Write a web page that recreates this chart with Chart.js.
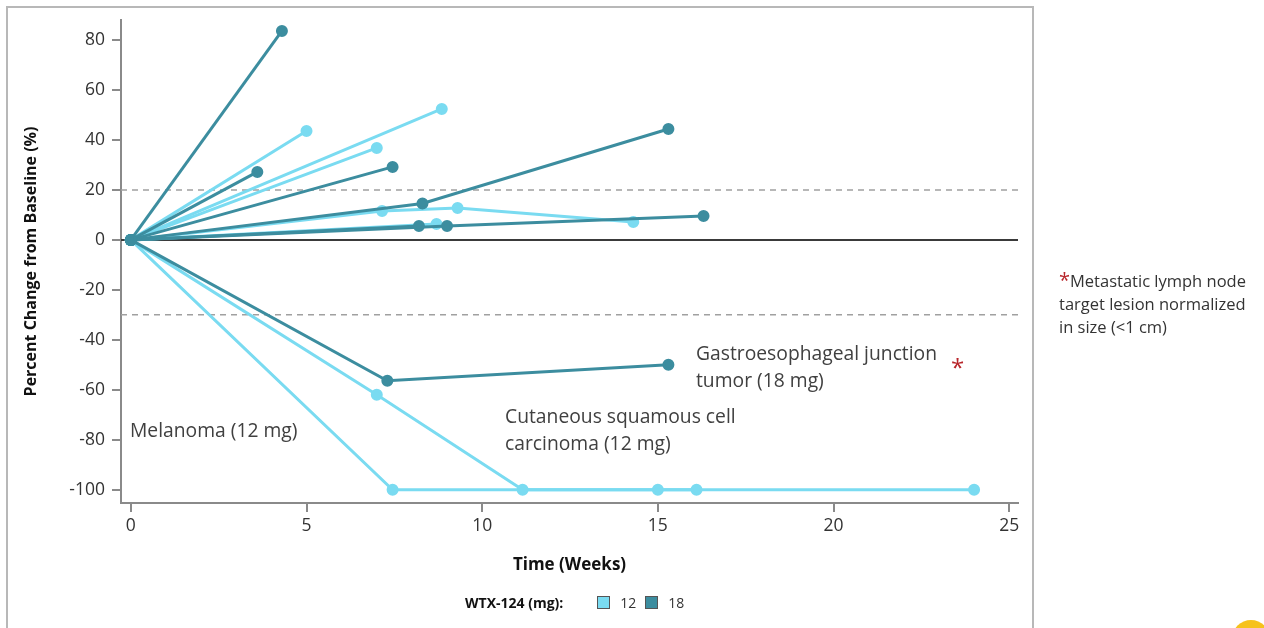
<!DOCTYPE html>
<html>
<head>
    <title>WTX-124 - Percent Change from Baseline</title>
    <script src="https://cdn.jsdelivr.net/npm/chart.js"></script>
    <style>
        body { margin: 0; background: #ffffff; font-family: "Open Sans", sans-serif; }
        #wrap { position: relative; width: 1264px; height: 628px; overflow: hidden; background: #fff; }
        #frame { position: absolute; left: 6px; top: 6px; width: 1024px; height: 660px; border: 2px solid #b8b8b8; }
        #chart { position: absolute; left: 0; top: 0; }
        .note { position: absolute; color: #404040; font-size: 19.3px; line-height: 27px; white-space: nowrap; }
        .star { position: absolute; color: #b8262b; font-size: 24px; line-height: 24px; }
        #side { position: absolute; left: 1059px; top: 268px; color: #333; font-size: 16.5px; line-height: 23px; white-space: nowrap; }
        #side .red { color: #b8262b; font-size: 20px; }
        #legend { position: absolute; left: 465px; top: 593px; font-size: 14px; color: #333; display: flex; align-items: center; }
        #legend b { color: #111; margin-right: 34px; }
        .sw { display: inline-block; width: 11px; height: 11px; border: 1px solid #555; margin-right: 10px; }
        #dot { position: absolute; left: 1232px; top: 620px; width: 38px; height: 38px; border-radius: 50%; background: #f6c21c; }
    </style>
</head>
<body>
<div id="wrap">
    <div id="frame"></div>
    <canvas id="chart" width="1264" height="628"></canvas>
    <div class="note" style="left:130px; top:416px;">Melanoma (12 mg)</div>
    <div class="note" style="left:505px; top:402px;">Cutaneous squamous cell<br>carcinoma (12 mg)</div>
    <div class="note" style="left:696px; top:339px;">Gastroesophageal junction<br>tumor (18 mg)</div>
    <div class="star" style="left:951px; top:355px;">*</div>
    <div id="side"><span class="red">*</span>Metastatic lymph node<br>target lesion normalized<br>in size (&lt;1 cm)</div>
    <div id="legend">
        <b>WTX-124 (mg):</b>
        <span class="sw" id="sw12"></span><span style="margin-right:9px">12</span>
        <span class="sw" id="sw18"></span><span>18</span>
    </div>
    <div id="dot"></div>
</div>
<script>
    // one row per patient: time points (weeks) and % change from baseline
    var weeks12 = [
        [0, 5.0], [0, 8.85], [0, 7.0], [0, 7.15, 9.3, 14.3], [0, 8.7],
        [0, 7.0, 11.15, 16.1], [0, 7.45, 15.0, 24.0]
    ];
    var change12 = [
        [0, 43.6], [0, 52.4], [0, 36.8], [0, 11.6, 12.8, 7.2], [0, 6.4],
        [0, -62, -100, -100], [0, -100, -100, -100]
    ];
    var weeks18 = [
        [0, 4.3], [0, 3.6], [0, 7.45], [0, 8.3, 15.3], [0, 8.2], [0, 9.0, 16.3], [0, 7.3, 15.3]
    ];
    var change18 = [
        [0, 83.6], [0, 27.2], [0, 29.2], [0, 14.6, 44.4], [0, 5.6], [0, 5.6, 9.6], [0, -56.4, -50]
    ];
    var doses = ['12', '18'];
    var xTicks = [0, 5, 10, 15, 20, 25];
    var yTicks = [-100, -80, -60, -40, -20, 0, 20, 40, 60, 80];
    var thresholds = [20, -30];

    var light = '#7adbf1';
    var dark = '#3c8d9f';
    document.getElementById('sw12').style.background = light;
    document.getElementById('sw18').style.background = dark;

    function makeSets(weeks, change, color, dose) {
        return weeks.map(function (w, i) {
            return {
                label: dose + ' mg',
                data: w.map(function (x, j) { return { x: x, y: change[i][j] }; }),
                borderColor: color,
                backgroundColor: color,
                pointBackgroundColor: color,
                pointBorderColor: color,
                borderWidth: 3,
                pointRadius: 4.5,
                tension: 0
            };
        });
    }

    var datasets = makeSets(weeks18, change18, dark, doses[1]).concat(makeSets(weeks12, change12, light, doses[0]));

    var refLines = {
        id: 'refLines',
        beforeDatasetsDraw: function (chart) {
            var ctx = chart.ctx, a = chart.chartArea, y = chart.scales.y;
            ctx.save();
            ctx.strokeStyle = '#a0a0a0';
            ctx.lineWidth = 1.5;
            ctx.setLineDash([6, 5]);
            thresholds.forEach(function (v) {
                var py = y.getPixelForValue(v);
                ctx.beginPath(); ctx.moveTo(a.left, py); ctx.lineTo(a.right, py); ctx.stroke();
            });
            ctx.setLineDash([]);
            ctx.strokeStyle = '#3a3a3a';
            ctx.lineWidth = 2;
            var p0 = y.getPixelForValue(0);
            ctx.beginPath(); ctx.moveTo(a.left, p0); ctx.lineTo(a.right, p0); ctx.stroke();
            ctx.restore();
        }
    };

    var axisFont = { family: '"Open Sans", sans-serif', size: 17.5 };

    new Chart(document.getElementById('chart'), {
        type: 'line',
        data: { datasets: datasets },
        plugins: [refLines],
        options: {
            responsive: false,
            animation: false,
            layout: { padding: { left: 18, top: 20, right: 246, bottom: 53 } },
            plugins: { legend: { display: false }, tooltip: { enabled: false } },
            elements: { line: { clip: false }, point: { hoverRadius: 4.5 } },
            scales: {
                x: {
                    type: 'linear',
                    min: -0.28, max: 25.25,
                    afterBuildTicks: function (s) { s.ticks = xTicks.map(function (v) { return { value: v }; }); },
                    afterFit: function (s) { s.height = 72; },
                    grid: { drawOnChartArea: false, tickLength: 9, color: '#8a8a8a', lineWidth: 2 },
                    border: { color: '#8a8a8a', width: 2 },
                    ticks: { color: '#333', font: axisFont, padding: 4, maxRotation: 0 },
                    title: { display: true, text: 'Time (Weeks)', color: '#111', font: { family: '"Open Sans", sans-serif', size: 17, weight: 'bold' }, padding: { top: 0, bottom: 0 } }
                },
                y: {
                    min: -105.3, max: 88,
                    afterBuildTicks: function (s) { s.ticks = yTicks.map(function (v) { return { value: v }; }); },
                    afterFit: function (s) { s.width = 103; },
                    grid: { drawOnChartArea: false, tickLength: 9, color: '#8a8a8a', lineWidth: 2 },
                    border: { color: '#8a8a8a', width: 2 },
                    ticks: { color: '#333', font: axisFont, padding: 7 },
                    title: { display: true, text: 'Percent Change from Baseline (%)', color: '#111', font: { family: '"Open Sans", sans-serif', size: 16, weight: 'bold' }, padding: { top: 4, bottom: 0 } }
                }
            }
        }
    });
</script>
</body>
</html>
